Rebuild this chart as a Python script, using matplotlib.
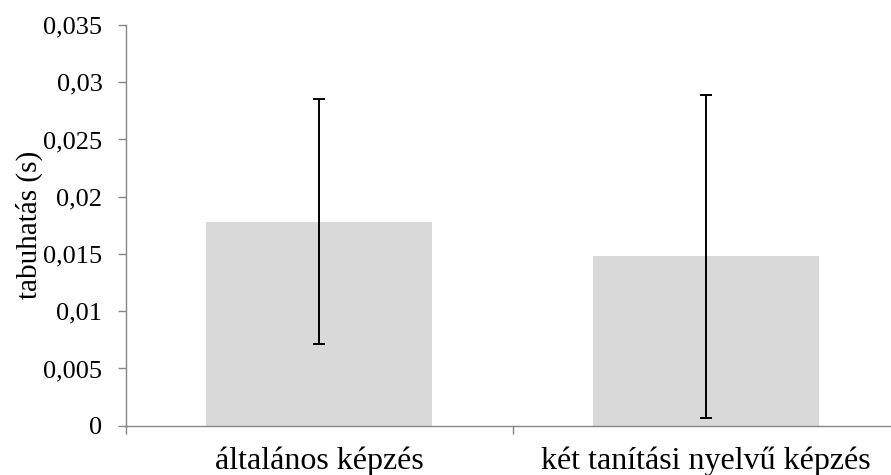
# Bar chart of tabuhatás by training type, with error bars (Excel-style look)
import numpy as np
import matplotlib.pyplot as plt
from matplotlib.ticker import FuncFormatter, FixedLocator

# Data
categories = ["általános képzés", "két tanítási nyelvű képzés"]
values = [0.0178, 0.0148]
errors = [0.0107, 0.0141]
yTicks = [0, 0.005, 0.01, 0.015, 0.02, 0.025, 0.03, 0.035]

plt.rcParams['font.family'] = ['Liberation Serif', 'DejaVu Serif']
axisColor = "#868686"

fig = plt.figure(figsize=(8.91, 4.75), dpi=100)
# axes in pixels: left 126, right ~899 (runs off the image), bottom 426, top 25
W, H = 891, 475
ax = fig.add_axes([126/W, (H-425.7)/H, (899-126)/W, (425.7-25)/H])

x = np.arange(len(categories))
ax.bar(x, values, width=0.585, color="#d9d9d9", zorder=1)
ax.errorbar(x, values, yerr=errors, fmt="none", ecolor="black",
            elinewidth=1.4, capsize=4, capthick=1.4, zorder=2)

ax.set_xlim(-0.5, 1.5)
ax.set_ylim(0, 0.035)

# y axis: comma decimals
ax.set_yticks(yTicks)
ax.yaxis.set_major_formatter(FuncFormatter(lambda v, p: ("%g" % v).replace(".", ",")))
ax.tick_params(axis="y", direction="out", length=6, width=1, color=axisColor,
               labelsize=19, pad=11)

# x axis: labels at bar centres, tick marks between categories
ax.set_xticks(x)
ax.set_xticklabels(categories)
ax.tick_params(axis="x", which="major", length=0, labelsize=23, pad=15)
ax.xaxis.set_minor_locator(FixedLocator([-0.5, 0.5, 1.5]))
ax.tick_params(axis="x", which="minor", direction="out", length=6, width=1, color=axisColor)

for side in ["top", "right"]:
    ax.spines[side].set_visible(False)
for side in ["left", "bottom"]:
    ax.spines[side].set_color(axisColor)
    ax.spines[side].set_linewidth(1)

ax.set_ylabel("tabuhatás (s)", fontsize=21, labelpad=0)

fig.savefig("out.png", dpi=100)
